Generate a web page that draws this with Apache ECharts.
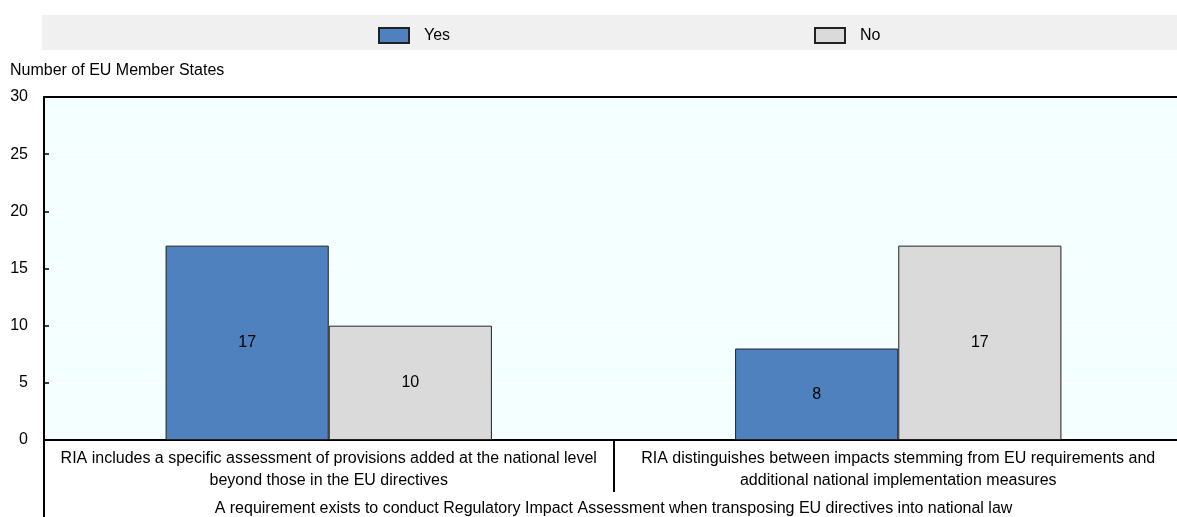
<html>
<head>
    <meta http-equiv="Content-Type" content="text/html; charset=utf-8">
    <script src="https://cdn.jsdelivr.net/npm/echarts@6/dist/echarts.min.js"></script>
    <style>
        * {
            margin: 0;
            padding: 0;
        }

        #main {
            width: 1177px;
            height: 517px;
        }
    </style>
</head>
<body>
<div id="main"></div>
<script type="text/javascript">
    // data
    let categories = [
        'RIA includes a specific assessment of provisions added at the national level\nbeyond those in the EU directives',
        'RIA distinguishes between impacts stemming from EU requirements and\nadditional national implementation measures'
    ];
    let outerCategory = ['A requirement exists to conduct Regulatory Impact Assessment when transposing EU directives into national law'];
    let yesValues = [17, 8];
    let noValues = [10, 17];
    let yTicks = [0, 30, 5]; // min, max, step

    let fontName = "'Liberation Sans Narrow', 'Arial Narrow', 'Liberation Sans', sans-serif";
    let myChart = echarts.init(document.getElementById('main'));

    let option = {
        animation: false,
        textStyle: {fontFamily: fontName, color: '#000'},
        graphic: [
            {
                type: 'rect',
                shape: {x: 42, y: 15, width: 1135, height: 35},
                style: {fill: '#f0f0f0'},
                z: -1
            }
        ],
        title: {
            text: 'Number of EU Member States',
            left: 5,
            top: 58,
            textStyle: {fontFamily: fontName, fontSize: 16, fontWeight: 'normal', color: '#000'}
        },
        legend: [
            {
                data: ['Yes'], left: 378, top: 27, padding: 0, itemWidth: 30, itemHeight: 15,
                icon: 'rect',
                textStyle: {fontFamily: fontName, fontSize: 16, color: '#000', padding: [0, 0, 0, 10]}
            },
            {
                data: ['No'], left: 814, top: 27, padding: 0, itemWidth: 30, itemHeight: 15,
                icon: 'rect',
                textStyle: {fontFamily: fontName, fontSize: 16, color: '#000', padding: [0, 0, 0, 10]}
            }
        ],
        grid: {
            left: 44, width: 1139, top: 97, bottom: 77,
            outerBoundsMode: 'none',
            show: true,
            backgroundColor: '#f4ffff',
            borderWidth: 0
        },
        xAxis: [
            {
                type: 'category',
                data: categories,
                axisLine: {lineStyle: {color: '#000', width: 2}},
                axisTick: {show: true, length: 52, lineStyle: {color: '#000', width: 2}},
                axisLabel: {
                    fontFamily: fontName, fontSize: 16, color: '#000',
                    lineHeight: 22, margin: 8, interval: 0
                }
            },
            {
                type: 'category',
                data: outerCategory,
                position: 'bottom',
                offset: 52,
                axisLine: {show: false},
                axisTick: {show: true, length: 25, lineStyle: {color: '#000', width: 2}},
                axisLabel: {fontFamily: fontName, fontSize: 16, color: '#000', margin: 9}
            },
            {
                // top frame line
                type: 'category',
                data: categories,
                position: 'top',
                axisLine: {show: true, lineStyle: {color: '#000', width: 2}},
                axisTick: {show: false},
                axisLabel: {show: false}
            }
        ],
        yAxis: {
            type: 'value',
            min: yTicks[0],
            max: yTicks[1],
            interval: yTicks[2],
            axisLine: {show: true, lineStyle: {color: '#000', width: 2}},
            axisTick: {show: true, inside: true, length: 5, lineStyle: {color: '#000', width: 1.5}},
            axisLabel: {fontFamily: fontName, fontSize: 16, color: '#000', margin: 16},
            splitLine: {show: true, lineStyle: {color: '#ffffff', width: 1}}
        },
        series: [
            {
                name: 'Yes',
                type: 'bar',
                data: yesValues,
                barGap: '0%',
                barCategoryGap: '42.7%',
                itemStyle: {color: '#4e81bd', borderColor: '#222', borderWidth: 1},
                label: {show: true, position: 'inside', fontFamily: fontName, fontSize: 16, color: '#000'}
            },
            {
                name: 'No',
                type: 'bar',
                data: noValues,
                barGap: '0%',
                barCategoryGap: '42.7%',
                itemStyle: {color: '#dadada', borderColor: '#222', borderWidth: 1},
                label: {show: true, position: 'inside', fontFamily: fontName, fontSize: 16, color: '#000'}
            }
        ]
    };

    myChart.setOption(option);
</script>
</body>
</html>
